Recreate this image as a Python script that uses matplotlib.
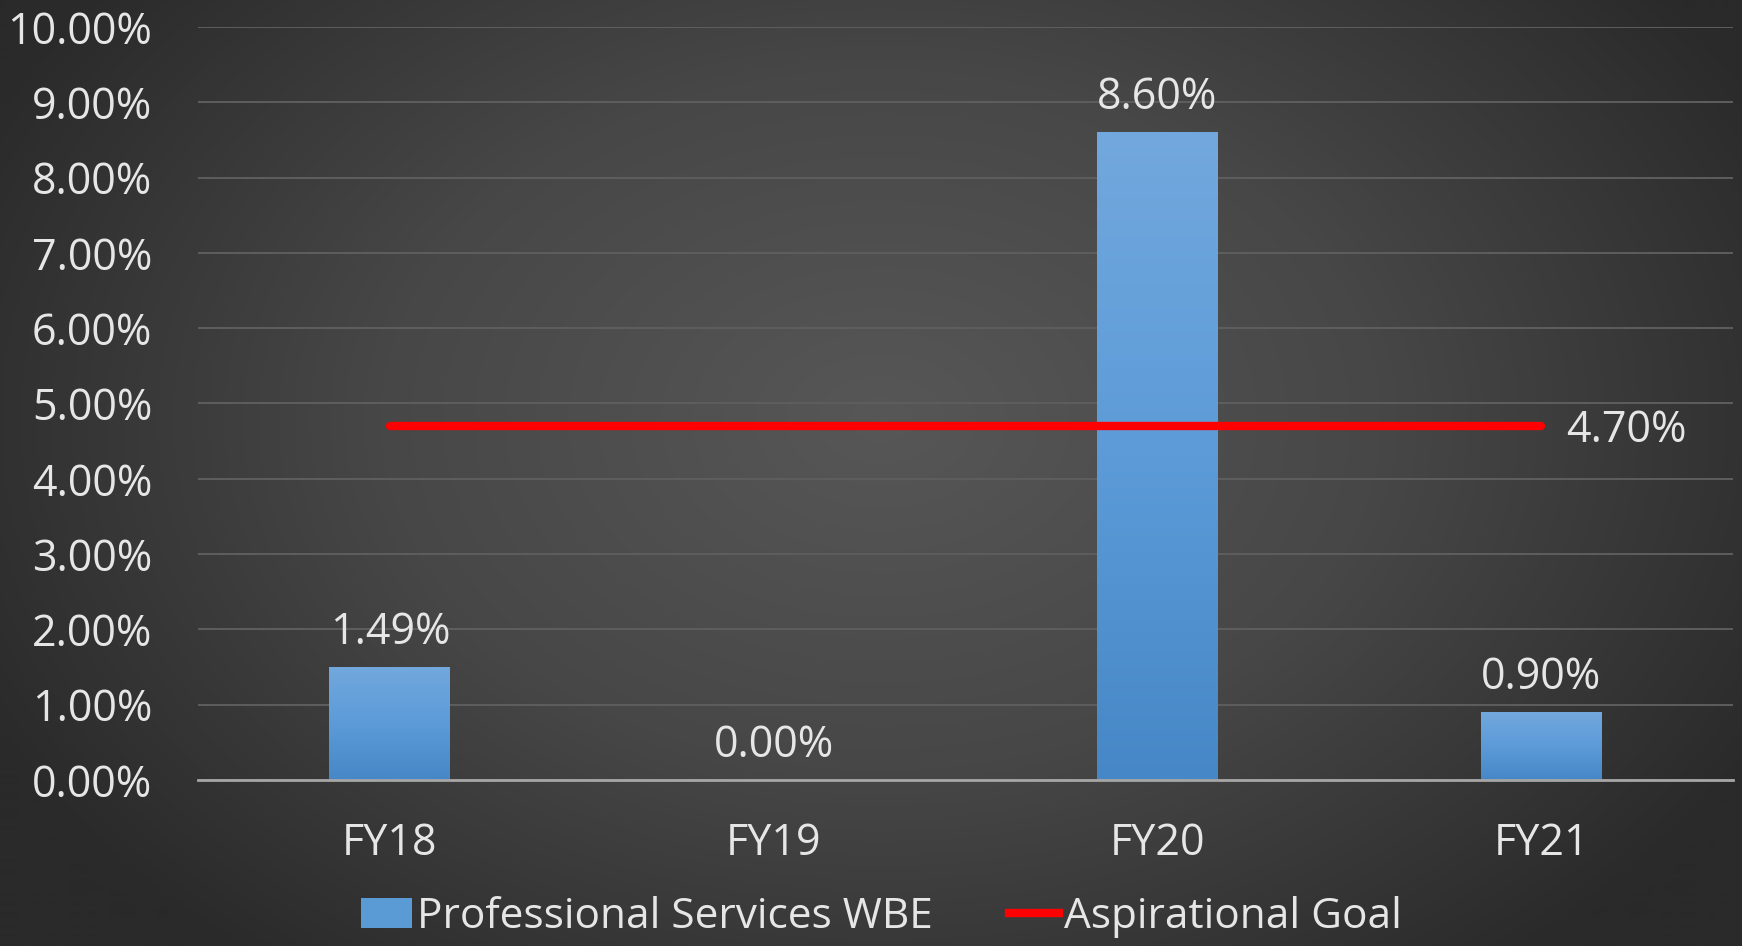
import numpy as np
import matplotlib
matplotlib.use("Agg")
import matplotlib.pyplot as plt
from matplotlib.colors import LinearSegmentedColormap
from matplotlib.lines import Line2D
from matplotlib.patches import Patch

categories = ["FY18", "FY19", "FY20", "FY21"]
wbe_values = [1.49, 0.00, 8.60, 0.90]
goal_values = [4.70, 4.70, 4.70, 4.70]
y_ticks = [0, 1, 2, 3, 4, 5, 6, 7, 8, 9, 10]
series_names = ["Professional Services WBE", "Aspirational Goal"]

plt.rcParams['font.family'] = ['Open Sans', 'DejaVu Sans']
txt_color = "#e6e6e6"
FS = 31

fig = plt.figure(figsize=(17.42, 9.46), dpi=100)

# radial gradient background
bg = fig.add_axes([0, 0, 1, 1], zorder=-10)
bg.set_axis_off()
yy, xx = np.mgrid[0:946, 0:1742]
cx, cy = 880, 420
r = np.sqrt(((xx - cx) / 1000.0) ** 2 + ((yy - cy) / 700.0) ** 2)
r = np.clip(r, 0, 1)
bgcmap = LinearSegmentedColormap.from_list("bg", ["#575757", "#474747", "#2a2a2a"])
bg.imshow(r, cmap=bgcmap, aspect="auto", extent=[0, 1, 0, 1], origin="upper", vmin=0, vmax=1)
bg.set_xlim(0, 1)
bg.set_ylim(0, 1)

ax = fig.add_axes([198 / 1742, (946 - 780) / 946, (1733 - 198) / 1742, (780 - 27) / 946])
ax.patch.set_alpha(0)
x = np.arange(len(categories))
bars = ax.bar(x, wbe_values, width=0.315, color="#5b9bd5", zorder=3)

barcmap = LinearSegmentedColormap.from_list("bar", ["#4687c7", "#5c9bd8", "#72a8dd"])
grad = np.linspace(0, 1, 256).reshape(-1, 1)
for b in bars:
    h = b.get_height()
    if h <= 0:
        continue
    b.set_facecolor("none")
    ax.imshow(grad, cmap=barcmap, aspect="auto", origin="lower",
              extent=[b.get_x(), b.get_x() + b.get_width(), 0, h], zorder=3)

ax.plot(x, goal_values, color="#ff0000", lw=6, solid_capstyle="round", zorder=4)

for xi, v in zip(x, wbe_values):
    ax.annotate(f"{v:.2f}%", (xi, v), xytext=(0, 9), textcoords="offset points",
                ha="center", va="bottom", color=txt_color, fontsize=FS)
ax.annotate(f"{goal_values[-1]:.2f}%", (x[-1], goal_values[-1]), xytext=(18, -3),
            textcoords="offset points", ha="left", va="center", color=txt_color, fontsize=FS)

ax.set_xlim(-0.5, len(categories) - 0.5)
ax.set_ylim(0, 10)
ax.set_yticks(y_ticks)
ax.set_yticklabels([f"{t:.2f}%" for t in y_ticks])
ax.set_xticks(x)
ax.set_xticklabels(categories)
ax.tick_params(axis="y", length=0, pad=33, labelsize=FS, labelcolor=txt_color)
ax.tick_params(axis="x", length=0, pad=30, labelsize=FS, labelcolor=txt_color)
ax.grid(axis="y", color="#5e5e5e", lw=1.4, zorder=0)
for s in ["top", "right", "left"]:
    ax.spines[s].set_visible(False)
ax.spines["bottom"].set_color("#a6a6a6")
ax.spines["bottom"].set_linewidth(2)
ax.spines["bottom"].set_zorder(5)

handles = [Patch(facecolor="#5b9bd5", edgecolor="none"),
           Line2D([0], [0], color="#ff0000", lw=6)]
leg = fig.legend(handles, series_names, loc="lower center", bbox_to_anchor=(0.506, -0.032),
                 ncol=2, frameon=False, fontsize=30.5, labelcolor=txt_color,
                 handlelength=1.2, handletextpad=0.1, columnspacing=1.8, handleheight=0.7)

fig.savefig("out.png", dpi=100)
